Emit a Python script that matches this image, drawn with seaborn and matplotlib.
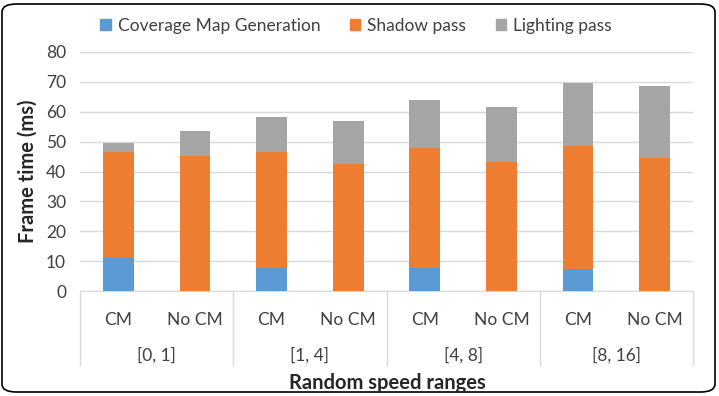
import numpy as np
import pandas as pd
import matplotlib.pyplot as plt
from matplotlib.patches import FancyBboxPatch, Patch
import matplotlib.transforms as mtransforms
import seaborn as sns

groups = ['[0, 1]', '[1, 4]', '[4, 8]', '[8, 16]']
modes = ['CM', 'No CM']
coverage = [10.9, 0, 7.7, 0, 7.7, 0, 7.3, 0]
shadow = [35.5, 45.2, 38.7, 42.6, 40.1, 43.2, 41.1, 44.4]
lighting = [3.2, 8.5, 12.0, 14.2, 16.2, 18.5, 21.3, 24.2]

colors = {'Coverage Map Generation': '#5B9BD5', 'Shadow pass': '#ED7D31', 'Lighting pass': '#A5A5A5'}

df = pd.DataFrame({
    'bar': [f'{g} {m}' for g in groups for m in modes],
    'mode': [m for g in groups for m in modes],
    'cov': coverage, 'shadow': shadow, 'light': lighting,
})
df['top_shadow'] = df['cov'] + df['shadow']
df['top_light'] = df['top_shadow'] + df['light']

sns.set_style('white')
plt.rcParams['font.family'] = ['Lato', 'DejaVu Sans']
plt.rcParams['text.color'] = '#404040'

fig = plt.figure(figsize=(7.19, 3.96), dpi=100)
ax = fig.add_axes([80 / 719, 1 - 291 / 396, 613 / 719, 239 / 396])

order = list(df['bar'])
# stacked bars: draw cumulative tops from the back
for col, key, z in [('top_light', 'Lighting pass', 2), ('top_shadow', 'Shadow pass', 3),
                    ('cov', 'Coverage Map Generation', 4)]:
    sns.barplot(data=df, x='bar', y=col, order=order, color=colors[key], width=0.4,
                saturation=1, linewidth=0, ax=ax, zorder=z)

ax.set_ylim(0, 80)
ax.set_xlim(-0.5, 7.5)
ax.set_yticks(np.arange(0, 81, 10))
ax.yaxis.grid(True, color='#D9D9D9', linewidth=1, zorder=0)
ax.set_axisbelow(True)
for s in ['top', 'right', 'left']:
    ax.spines[s].set_visible(False)
ax.spines['bottom'].set_color('#D9D9D9')
ax.tick_params(axis='y', length=0, labelsize=12.5, pad=10, colors='#404040')
ax.tick_params(axis='x', length=0, labelsize=12.5, pad=15, colors='#404040')
ax.set_xticks(range(len(order)))
ax.set_xticklabels(df['mode'])
ax.set_xlabel('')
ax.set_ylabel('Frame time (ms)', fontsize=14.5, fontweight='bold', color='#262626', labelpad=6)

# group labels and separators
trans = mtransforms.blended_transform_factory(ax.transData, ax.transAxes)
for i, g in enumerate(groups):
    ax.text(2 * i + 0.5, -64 / 239, g, transform=trans, ha='center', va='center',
            fontsize=12.5, color='#404040')
for xs in [-0.5, 1.5, 3.5, 5.5, 7.5]:
    ax.plot([xs, xs], [0, -74 / 239], transform=trans, color='#D9D9D9', lw=1, clip_on=False)
fig.text(387 / 719, 1 - 383 / 396, 'Random speed ranges', ha='center', va='center',
         fontsize=14.5, fontweight='bold', color='#262626')

handles = [Patch(color=c, label=k) for k, c in colors.items()]
fig.legend(handles=handles, loc='center', bbox_to_anchor=(356 / 719, 1 - 26 / 396), ncol=3,
           frameon=False, fontsize=12.5, handlelength=0.6, handleheight=0.6,
           handletextpad=0.4, columnspacing=1.7)

border = FancyBboxPatch((2 / 719, 4 / 396), 713 / 719, 388 / 396,
                        boxstyle='round,pad=0,rounding_size=0.02', transform=fig.transFigure,
                        fill=False, edgecolor='black', linewidth=1.2)
fig.patches.append(border)

fig.savefig('out.png', dpi=100)
